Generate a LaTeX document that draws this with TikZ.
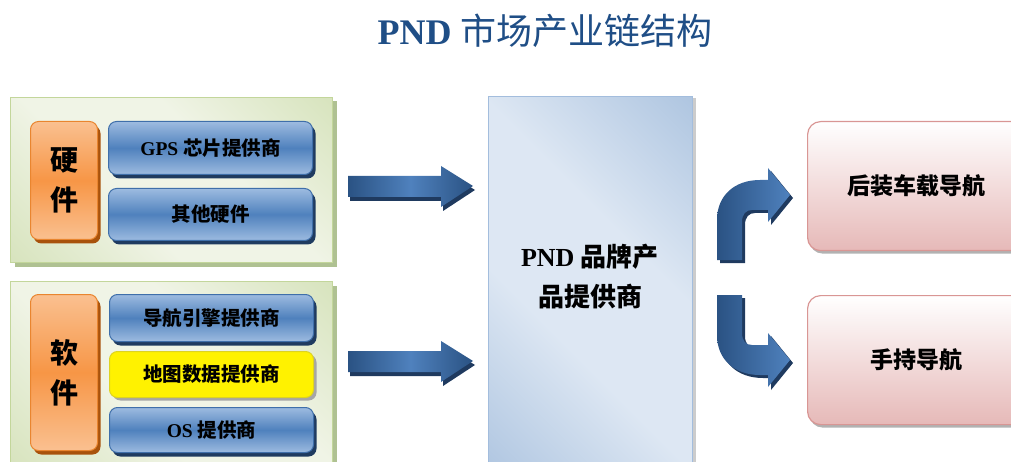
\documentclass[tikz,border=0pt]{standalone}
\usepackage{fontspec}
\setmainfont{Liberation Serif}
\newfontfamily\cjk{Noto Sans CJK SC}
\newcommand\zh[1]{{\cjk #1}}
\usetikzlibrary{shadows}
\usetikzlibrary{positioning}
\usetikzlibrary{calc}

\definecolor{titleblue}{HTML}{1F4E86}
\definecolor{pglight}{HTML}{F0F4E6}
\definecolor{pgdark}{HTML}{C9DAA6}
\definecolor{pgline}{HTML}{C3D69B}
\definecolor{pgshadow}{HTML}{AFC192}
\definecolor{pblight}{HTML}{DDE7F3}
\definecolor{pbdark}{HTML}{94B2D6}
\definecolor{pbline}{HTML}{A3BDDD}
\definecolor{orlight}{HTML}{FAC090}
\definecolor{ormid}{HTML}{F79646}
\definecolor{orline}{HTML}{E9852F}
\definecolor{orshadow}{HTML}{A8520C}
\definecolor{bllight}{HTML}{9DBBE0}
\definecolor{blmid}{HTML}{4F81BD}
\definecolor{blline}{HTML}{3F6FAA}
\definecolor{blshadow}{HTML}{1F3B60}
\definecolor{pklight}{HTML}{FFFFFF}
\definecolor{pkdark}{HTML}{E6B9B8}
\definecolor{pkline}{HTML}{D99694}
\definecolor{arrdark}{HTML}{2A5283}
\definecolor{arrmid}{HTML}{4F81BD}
\definecolor{arrshadow}{HTML}{1F3A5F}

\pgfdeclarehorizontalshading{bandgreen}{100bp}{color(0bp)=(pgdark); color(40bp)=(pglight); color(60bp)=(pglight); color(100bp)=(pgdark)}
\pgfdeclarehorizontalshading{bandblue}{100bp}{color(0bp)=(pbdark); color(40bp)=(pblight); color(60bp)=(pblight); color(100bp)=(pbdark)}

\tikzset{
  panel/.style={draw=pgline, line width=1pt, shading=bandgreen, shading angle=45,
    drop shadow={shadow xshift=4pt, shadow yshift=-4pt, fill=pgshadow, opacity=1},
    minimum width=322pt, inner sep=0pt, anchor=north west},
  kind/.style={draw=orline, line width=1pt, rounded corners=8pt,
    top color=orlight, bottom color=orlight, middle color=ormid,
    drop shadow={shadow xshift=3pt, shadow yshift=-4pt, fill=orshadow, opacity=1},
    minimum width=67pt, inner sep=0pt, anchor=north west, align=center,
    font=\fontsize{28}{40}\selectfont\cjk\bfseries},
  boxbase/.style={line width=1pt, rounded corners=8pt,
    minimum width=204pt, inner sep=0pt,
    font=\fontsize{19.5}{22}\selectfont\bfseries},
  supplier/.style={boxbase, draw=blline,
    top color=bllight, bottom color=bllight, middle color=blmid,
    drop shadow={shadow xshift=3pt, shadow yshift=-4pt, fill=blshadow, opacity=1}},
  mapbox/.style={boxbase, draw=yellow!85!black, fill=yellow,
    drop shadow={shadow xshift=3pt, shadow yshift=-3pt, fill=black!35, opacity=1}},
  market/.style={draw=pkline, line width=1.2pt, rounded corners=13pt,
    top color=pklight, bottom color=pkdark,
    drop shadow={shadow xshift=2pt, shadow yshift=-3pt, fill=black!30, opacity=1},
    minimum width=230pt, minimum height=129pt, inner sep=0pt, anchor=north west,
    font=\fontsize{23}{26}\selectfont\cjk\bfseries},
}

\begin{document}
\begin{tikzpicture}[x=1pt,y=-1pt]
\useasboundingbox (0,0) rectangle (1011,462);
\clip (0,0) rectangle (1011,462);

% title
\node[text=titleblue, font=\fontsize{36}{40}\selectfont] (title) at (545,31)
  {\textbf{PND} \zh{市场产业链结构}};

% hardware
\node[panel, minimum height=165pt] (hw) at (10,97) {};
\node[kind, minimum height=118pt] (hwkind) at (30,121) {硬\\件};
\node[supplier, minimum height=53pt, anchor=north west] (gps) at (108,121) {GPS \zh{芯片提供商}};
\node[supplier, minimum height=52pt, below=13pt of gps] (otherhw) {\zh{其他硬件}};

% software
\node[panel, minimum height=186pt] (sw) at (10,281) {};
\node[kind, minimum height=156pt] (swkind) at (30,294) {软\\件};
\node[supplier, minimum height=47pt, anchor=north west] (engine) at (109,294) {\zh{导航引擎提供商}};
\node[mapbox, minimum height=46pt, below=9pt of engine] (mapdata) {\zh{地图数据提供商}};
\node[supplier, minimum height=45pt, below=9pt of mapdata] (os) {OS \zh{提供商}};

% brand
\node[draw=pbline, line width=1pt, shading=bandblue, shading angle=45,
  drop shadow={shadow xshift=3pt, shadow yshift=-2pt, fill=black!20, opacity=1},
  minimum width=204pt, minimum height=380pt, inner sep=0pt, anchor=north west] (brand) at (488,96) {};
\node[align=center, font=\fontsize{26}{40}\selectfont\bfseries] (brandtxt) at (590,277)
  {PND \zh{品牌产}\\\zh{品提供商}};

% markets
\node[market] (aftermkt) at (807,121) {\hspace*{-12pt}后装车载导航};
\node[market] (handheld) at (807,295) {\hspace*{-12pt}手持导航};

% straight arrows
\foreach \y in {186,361} {
  \fill[arrshadow] (350,\y-10+4) -- (443,\y-10+4) -- (443,\y-20+4) -- (475,\y+4) -- (443,\y+21+4) -- (443,\y+11+4) -- (350,\y+11+4) -- cycle;
  \shade[left color=arrdark, right color=arrdark, middle color=arrmid]
    (348,\y-10) -- (441,\y-10) -- (441,\y-20) -- (473,\y) -- (441,\y+21) -- (441,\y+11) -- (348,\y+11) -- cycle;
}

% bent arrows
\fill[arrshadow, shift={(3,3)}] (717,260) -- (717,220) .. controls (717,195) and (735,180) .. (760,180) -- (768,180) -- (768,168)
  -- (790,195) -- (768,222) -- (768,210) -- (752,210) .. controls (746,210) and (742,214) .. (742,222) -- (742,260) -- cycle;
\shade[left color=arrdark, right color=arrmid] (717,260) -- (717,220) .. controls (717,195) and (735,180) .. (760,180) -- (768,180) -- (768,168)
  -- (790,195) -- (768,222) -- (768,210) -- (752,210) .. controls (746,210) and (742,214) .. (742,222) -- (742,260) -- cycle;
\fill[arrshadow, shift={(3,3)}] (717,295) -- (717,335) .. controls (717,360) and (735,375) .. (760,375) -- (768,375) -- (768,387)
  -- (790,360) -- (768,333) -- (768,345) -- (752,345) .. controls (746,345) and (742,341) .. (742,333) -- (742,295) -- cycle;
\shade[left color=arrdark, right color=arrmid] (717,295) -- (717,335) .. controls (717,360) and (735,375) .. (760,375) -- (768,375) -- (768,387)
  -- (790,360) -- (768,333) -- (768,345) -- (752,345) .. controls (746,345) and (742,341) .. (742,333) -- (742,295) -- cycle;
\end{tikzpicture}
\end{document}
